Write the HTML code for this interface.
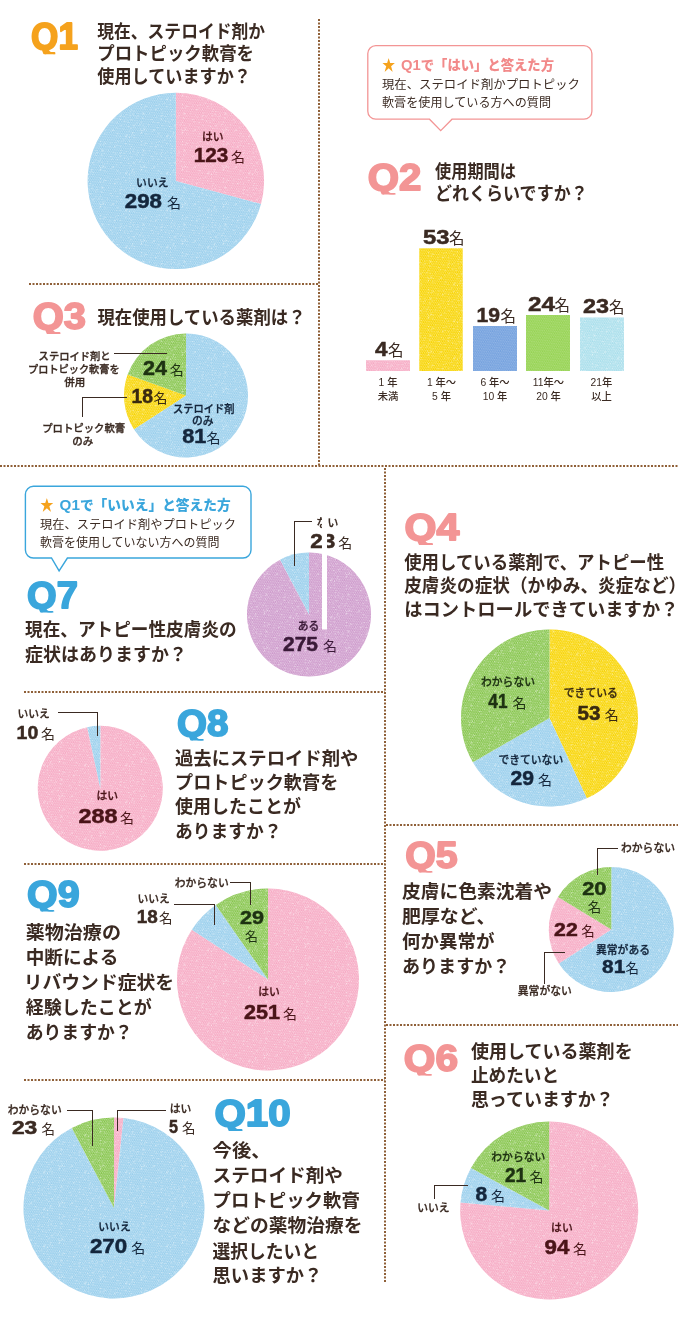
<!DOCTYPE html>
<html lang="ja"><head><meta charset="utf-8"><title>アンケート結果</title>
<style>
html,body{margin:0;padding:0;background:#fff}
svg{display:block}
.dot{stroke:#8f6038;stroke-width:2;stroke-dasharray:2 1.5}
.qn{font-family:"Liberation Sans",sans-serif;font-weight:bold;stroke-width:1.8;stroke-linejoin:round}
.qt{font-family:"Liberation Sans","Noto Sans CJK JP",sans-serif;font-weight:700;fill:#3a2a22}
.lb{font-family:"Liberation Sans","Noto Sans CJK JP",sans-serif;font-weight:500;stroke-width:0.3}
.lb2{font-family:"Liberation Sans","Noto Sans CJK JP",sans-serif;font-weight:500}
.nm{font-family:"Liberation Sans",sans-serif;font-weight:bold;stroke-width:0.5}
.mei{font-family:"Liberation Sans","Noto Sans CJK JP",sans-serif;font-weight:400}
.cth{font-family:"Liberation Sans","Noto Sans CJK JP",sans-serif;font-weight:900}
.ctb{font-family:"Liberation Sans","Noto Sans CJK JP",sans-serif;font-weight:400;fill:#3a2a22}
</style></head><body>
<svg width="678" height="1339" viewBox="0 0 678 1339">
<defs>
<pattern id="tex" width="2.2" height="3.4" patternUnits="userSpaceOnUse" patternTransform="rotate(-4)"><rect x="0.1" y="0.2" width="1.3" height="1" fill="#fff" fill-opacity="0.5"/><rect x="1.2" y="1.9" width="1.3" height="1" fill="#fff" fill-opacity="0.5"/><rect x="-1.0" y="1.9" width="1.3" height="1" fill="#fff" fill-opacity="0.5"/></pattern><pattern id="spk" width="41" height="37" patternUnits="userSpaceOnUse"><rect x="12.8" y="5.4" width="0.8" height="0.9" fill="#fff" fill-opacity="0.40"/><rect x="14.4" y="2.1" width="0.8" height="0.9" fill="#fff" fill-opacity="0.35"/><rect x="2.8" y="3.2" width="1.3" height="0.7" fill="#fff" fill-opacity="0.33"/><rect x="8.8" y="22.5" width="1.1" height="0.9" fill="#fff" fill-opacity="0.48"/><rect x="38.6" y="1.7" width="1.0" height="0.8" fill="#fff" fill-opacity="0.46"/><rect x="4.7" y="11.0" width="0.9" height="0.9" fill="#fff" fill-opacity="0.44"/><rect x="25.2" y="13.3" width="0.8" height="0.7" fill="#fff" fill-opacity="0.36"/><rect x="8.1" y="24.4" width="1.0" height="0.9" fill="#fff" fill-opacity="0.33"/><rect x="17.9" y="10.7" width="1.2" height="0.8" fill="#fff" fill-opacity="0.44"/><rect x="22.7" y="18.8" width="1.2" height="0.8" fill="#fff" fill-opacity="0.46"/><rect x="38.7" y="4.2" width="1.3" height="0.8" fill="#fff" fill-opacity="0.33"/><rect x="19.3" y="1.4" width="1.3" height="0.9" fill="#fff" fill-opacity="0.40"/><rect x="34.6" y="11.2" width="1.2" height="0.9" fill="#fff" fill-opacity="0.41"/><rect x="18.0" y="30.1" width="1.1" height="1.0" fill="#fff" fill-opacity="0.48"/><rect x="2.4" y="25.1" width="1.4" height="1.0" fill="#fff" fill-opacity="0.39"/><rect x="11.2" y="13.8" width="0.8" height="0.9" fill="#fff" fill-opacity="0.40"/><rect x="6.6" y="4.2" width="1.3" height="0.8" fill="#fff" fill-opacity="0.22"/><rect x="9.8" y="14.0" width="0.8" height="0.9" fill="#fff" fill-opacity="0.46"/><rect x="21.7" y="31.6" width="1.3" height="0.8" fill="#fff" fill-opacity="0.45"/><rect x="16.4" y="12.8" width="1.4" height="0.8" fill="#fff" fill-opacity="0.47"/><rect x="7.0" y="8.3" width="1.1" height="0.9" fill="#fff" fill-opacity="0.27"/><rect x="10.4" y="0.1" width="1.0" height="0.9" fill="#fff" fill-opacity="0.33"/><rect x="37.6" y="24.7" width="1.2" height="1.0" fill="#fff" fill-opacity="0.35"/><rect x="2.1" y="32.2" width="1.3" height="1.0" fill="#fff" fill-opacity="0.43"/><rect x="15.5" y="14.3" width="1.2" height="0.7" fill="#fff" fill-opacity="0.23"/><rect x="2.7" y="7.5" width="1.0" height="0.7" fill="#fff" fill-opacity="0.25"/><rect x="0.0" y="5.4" width="1.0" height="0.7" fill="#fff" fill-opacity="0.23"/><rect x="34.5" y="22.0" width="1.0" height="0.8" fill="#fff" fill-opacity="0.24"/><rect x="14.4" y="4.4" width="1.4" height="0.9" fill="#fff" fill-opacity="0.45"/><rect x="19.1" y="3.1" width="1.0" height="0.8" fill="#fff" fill-opacity="0.23"/><rect x="32.7" y="5.8" width="1.4" height="0.9" fill="#fff" fill-opacity="0.21"/><rect x="5.8" y="19.4" width="1.1" height="1.1" fill="#fff" fill-opacity="0.21"/><rect x="34.1" y="24.9" width="1.0" height="0.8" fill="#fff" fill-opacity="0.28"/><rect x="30.5" y="19.1" width="1.0" height="0.8" fill="#fff" fill-opacity="0.43"/><rect x="32.1" y="35.3" width="1.3" height="1.0" fill="#fff" fill-opacity="0.46"/><rect x="29.2" y="8.1" width="1.0" height="0.7" fill="#fff" fill-opacity="0.36"/><rect x="1.1" y="10.0" width="1.2" height="1.1" fill="#fff" fill-opacity="0.28"/><rect x="17.7" y="33.5" width="1.4" height="0.8" fill="#fff" fill-opacity="0.50"/><rect x="8.7" y="8.1" width="0.9" height="0.9" fill="#fff" fill-opacity="0.26"/><rect x="35.6" y="30.1" width="1.2" height="1.0" fill="#fff" fill-opacity="0.34"/><rect x="3.3" y="23.6" width="1.3" height="1.0" fill="#fff" fill-opacity="0.47"/><rect x="18.9" y="6.4" width="1.0" height="1.0" fill="#fff" fill-opacity="0.44"/><rect x="38.4" y="14.2" width="1.4" height="1.0" fill="#fff" fill-opacity="0.32"/><rect x="6.7" y="4.5" width="1.3" height="1.0" fill="#fff" fill-opacity="0.25"/><rect x="5.8" y="29.6" width="1.2" height="0.8" fill="#fff" fill-opacity="0.49"/><rect x="21.7" y="4.7" width="1.4" height="1.0" fill="#fff" fill-opacity="0.20"/><rect x="20.8" y="33.4" width="1.3" height="1.0" fill="#fff" fill-opacity="0.33"/><rect x="8.3" y="9.0" width="0.9" height="0.9" fill="#fff" fill-opacity="0.29"/><rect x="10.2" y="15.0" width="1.3" height="0.8" fill="#fff" fill-opacity="0.24"/><rect x="18.1" y="20.9" width="1.1" height="1.1" fill="#fff" fill-opacity="0.47"/><rect x="19.8" y="19.0" width="0.8" height="0.9" fill="#fff" fill-opacity="0.36"/><rect x="7.2" y="0.1" width="0.9" height="0.9" fill="#fff" fill-opacity="0.44"/><rect x="28.6" y="19.9" width="1.1" height="0.9" fill="#fff" fill-opacity="0.30"/><rect x="31.0" y="3.8" width="0.9" height="0.8" fill="#fff" fill-opacity="0.37"/><rect x="30.5" y="18.2" width="1.3" height="1.1" fill="#fff" fill-opacity="0.37"/><rect x="17.5" y="21.9" width="1.1" height="1.0" fill="#fff" fill-opacity="0.35"/><rect x="17.9" y="19.1" width="1.4" height="1.0" fill="#fff" fill-opacity="0.34"/><rect x="34.6" y="33.7" width="1.1" height="1.1" fill="#fff" fill-opacity="0.28"/><rect x="33.2" y="4.9" width="1.1" height="0.7" fill="#fff" fill-opacity="0.24"/><rect x="9.5" y="2.6" width="1.3" height="1.1" fill="#fff" fill-opacity="0.40"/><rect x="6.1" y="25.6" width="0.9" height="1.1" fill="#fff" fill-opacity="0.40"/><rect x="38.2" y="7.9" width="1.0" height="0.9" fill="#fff" fill-opacity="0.49"/><rect x="39.1" y="29.8" width="1.1" height="0.9" fill="#fff" fill-opacity="0.25"/><rect x="13.4" y="7.0" width="1.2" height="0.7" fill="#fff" fill-opacity="0.30"/><rect x="21.9" y="15.8" width="1.0" height="0.9" fill="#fff" fill-opacity="0.21"/><rect x="20.2" y="2.3" width="1.3" height="1.1" fill="#fff" fill-opacity="0.50"/><rect x="4.1" y="9.5" width="1.3" height="0.8" fill="#fff" fill-opacity="0.21"/><rect x="5.1" y="15.1" width="1.3" height="0.8" fill="#fff" fill-opacity="0.47"/><rect x="5.9" y="32.9" width="1.2" height="0.7" fill="#fff" fill-opacity="0.37"/><rect x="2.3" y="24.6" width="0.8" height="1.1" fill="#fff" fill-opacity="0.33"/><rect x="25.1" y="28.7" width="1.3" height="0.7" fill="#fff" fill-opacity="0.23"/><rect x="34.1" y="16.2" width="1.1" height="1.1" fill="#fff" fill-opacity="0.30"/><rect x="10.6" y="4.6" width="0.9" height="0.7" fill="#fff" fill-opacity="0.36"/><rect x="6.4" y="1.8" width="1.0" height="0.8" fill="#fff" fill-opacity="0.26"/><rect x="30.0" y="10.4" width="0.9" height="0.8" fill="#fff" fill-opacity="0.35"/><rect x="0.7" y="9.0" width="1.2" height="0.9" fill="#fff" fill-opacity="0.20"/><rect x="7.5" y="17.0" width="0.9" height="1.0" fill="#fff" fill-opacity="0.48"/><rect x="17.1" y="17.7" width="1.0" height="0.9" fill="#fff" fill-opacity="0.45"/><rect x="27.2" y="35.2" width="1.3" height="1.0" fill="#fff" fill-opacity="0.30"/><rect x="25.1" y="14.5" width="0.8" height="0.8" fill="#fff" fill-opacity="0.30"/><rect x="2.8" y="26.5" width="0.9" height="0.7" fill="#fff" fill-opacity="0.28"/><rect x="33.2" y="31.2" width="1.0" height="0.8" fill="#fff" fill-opacity="0.40"/><rect x="11.6" y="16.4" width="1.1" height="0.8" fill="#fff" fill-opacity="0.25"/><rect x="38.0" y="34.8" width="0.9" height="1.1" fill="#fff" fill-opacity="0.36"/><rect x="12.2" y="12.8" width="1.0" height="0.9" fill="#fff" fill-opacity="0.20"/><rect x="19.9" y="7.2" width="0.8" height="0.8" fill="#fff" fill-opacity="0.35"/><rect x="3.5" y="14.3" width="0.8" height="0.8" fill="#fff" fill-opacity="0.21"/><rect x="9.2" y="21.0" width="1.3" height="1.0" fill="#fff" fill-opacity="0.36"/><rect x="28.3" y="31.5" width="1.0" height="1.1" fill="#fff" fill-opacity="0.32"/><rect x="5.9" y="25.9" width="0.8" height="1.0" fill="#fff" fill-opacity="0.39"/><rect x="35.2" y="22.5" width="1.3" height="0.8" fill="#fff" fill-opacity="0.42"/><rect x="20.7" y="18.1" width="1.3" height="1.0" fill="#fff" fill-opacity="0.45"/><rect x="23.1" y="32.0" width="1.2" height="0.8" fill="#fff" fill-opacity="0.40"/><rect x="1.2" y="4.8" width="0.9" height="1.0" fill="#fff" fill-opacity="0.31"/><rect x="22.1" y="22.5" width="1.2" height="0.9" fill="#fff" fill-opacity="0.39"/><rect x="0.1" y="28.6" width="1.1" height="0.9" fill="#fff" fill-opacity="0.42"/><rect x="26.0" y="2.4" width="1.0" height="0.7" fill="#fff" fill-opacity="0.42"/><rect x="10.5" y="26.1" width="1.2" height="1.1" fill="#fff" fill-opacity="0.26"/><rect x="19.5" y="13.7" width="1.2" height="1.0" fill="#fff" fill-opacity="0.34"/><rect x="24.4" y="23.0" width="0.9" height="0.8" fill="#fff" fill-opacity="0.22"/><rect x="29.4" y="10.9" width="0.8" height="0.7" fill="#fff" fill-opacity="0.37"/><rect x="10.6" y="24.1" width="1.2" height="0.8" fill="#fff" fill-opacity="0.41"/><rect x="20.4" y="16.6" width="0.9" height="1.1" fill="#fff" fill-opacity="0.34"/><rect x="7.9" y="35.0" width="0.8" height="0.9" fill="#fff" fill-opacity="0.48"/><rect x="32.4" y="34.7" width="1.0" height="0.8" fill="#fff" fill-opacity="0.33"/><rect x="37.4" y="7.5" width="0.9" height="0.9" fill="#fff" fill-opacity="0.37"/><rect x="37.6" y="4.7" width="1.1" height="1.1" fill="#fff" fill-opacity="0.45"/><rect x="27.8" y="8.3" width="1.1" height="0.7" fill="#fff" fill-opacity="0.47"/><rect x="0.1" y="17.6" width="1.0" height="0.8" fill="#fff" fill-opacity="0.34"/><rect x="13.6" y="11.3" width="0.8" height="1.0" fill="#fff" fill-opacity="0.45"/></pattern>
<pattern id="tex2" width="2.2" height="3.4" patternUnits="userSpaceOnUse" patternTransform="rotate(-4)"><rect x="0.1" y="0.2" width="1.3" height="1" fill="#fff" fill-opacity="0.28"/><rect x="1.2" y="1.9" width="1.3" height="1" fill="#fff" fill-opacity="0.28"/><rect x="-1.0" y="1.9" width="1.3" height="1" fill="#fff" fill-opacity="0.28"/></pattern>
</defs>
<rect width="678" height="1339" fill="#fff"/>
<line x1="319" y1="19" x2="319" y2="466" class="dot"/>
<line x1="29" y1="284" x2="319" y2="284" class="dot"/>
<line x1="0" y1="466" x2="678" y2="466" class="dot"/>
<line x1="385" y1="468" x2="385" y2="1282" class="dot"/>
<line x1="24" y1="692" x2="385" y2="692" class="dot"/>
<line x1="24" y1="864" x2="385" y2="864" class="dot"/>
<line x1="24" y1="1080" x2="385" y2="1080" class="dot"/>
<line x1="386" y1="825" x2="678" y2="825" class="dot"/>
<line x1="386" y1="1025" x2="678" y2="1025" class="dot"/>
<clipPath id="qc1"><rect x="26.7" y="10.299999999999997" width="57.6" height="44"/></clipPath>
<text x="31.099999999999998" y="49.4" class="qn" fill="#f5a21d" stroke="#f5a21d" font-size="37" textLength="46.800000000000004" lengthAdjust="spacingAndGlyphs" clip-path="url(#qc1)">Q1</text>
<text x="97.3" y="37.5" class="qt" font-size="18.5" textLength="167.7" lengthAdjust="spacingAndGlyphs">現在、ステロイド剤か</text>
<text x="97.3" y="60.2" class="qt" font-size="18.5" textLength="156.7" lengthAdjust="spacingAndGlyphs">プロトピック軟膏を</text>
<text x="97.3" y="83" class="qt" font-size="18.5" textLength="153.7" lengthAdjust="spacingAndGlyphs">使用していますか？</text>
<path d="M175.85 180.90L175.85 92.70A88.2 88.2 0 0 1 260.97 203.99Z" fill="#f6a9c3"/>
<path d="M175.85 180.90L260.97 203.99A88.2 88.2 0 1 1 175.85 92.70Z" fill="#98ceec"/>
<circle cx="175.85" cy="180.9" r="88.2" fill="url(#tex)"/>
<circle cx="175.85" cy="180.9" r="88.2" fill="url(#spk)"/>
<text x="212.7" y="140.5" class="lb" font-size="10.8" text-anchor="middle" fill="#4a1418" stroke="#4a1418">はい</text>
<text x="193.8" y="162.2" class="nm" font-size="20" fill="#4a1418" stroke="#4a1418" textLength="34.5" lengthAdjust="spacingAndGlyphs">123</text>
<text x="231.0" y="162.2" class="mei" font-size="14" fill="#4a1418">名</text>
<text x="152.3" y="187" class="lb" font-size="10.8" text-anchor="middle" fill="#14263c" stroke="#14263c">いいえ</text>
<text x="124.8" y="208.3" class="nm" font-size="20" fill="#14263c" stroke="#14263c" textLength="37.2" lengthAdjust="spacingAndGlyphs">298</text>
<text x="167.0" y="208.3" class="mei" font-size="14" fill="#14263c">名</text>
<path d="M375.8 45.6H583.9a8 8 0 0 1 8 8V111.2a8 8 0 0 1 -8 8H452L440.7 130.6L429.5 119.2H375.8a8 8 0 0 1 -8 -8V53.6a8 8 0 0 1 8 -8Z" fill="#fff" stroke="#f39595" stroke-width="1.3"/>
<text x="382" y="70" class="cth" font-size="13.5" textLength="172" lengthAdjust="spacingAndGlyphs"><tspan fill="#f5a21d">★</tspan><tspan fill="#f28a8a" dx="2"> <tspan font-size="15">Q1</tspan>で「はい」と答えた方</tspan></text>
<text x="382" y="89" class="ctb" font-size="12" textLength="198" lengthAdjust="spacingAndGlyphs">現在、ステロイド剤かプロトピック</text>
<text x="382" y="107" class="ctb" font-size="12" textLength="169" lengthAdjust="spacingAndGlyphs">軟膏を使用している方への質問</text>
<clipPath id="qc2"><rect x="363.3" y="150.5" width="64.4" height="44"/></clipPath>
<text x="367.7" y="189.6" class="qn" fill="#f39595" stroke="#f39595" font-size="37" textLength="53.6" lengthAdjust="spacingAndGlyphs" clip-path="url(#qc2)">Q2</text>
<text x="435" y="177.5" class="qt" font-size="18.5" textLength="81" lengthAdjust="spacingAndGlyphs">使用期間は</text>
<text x="435" y="199.5" class="qt" font-size="18.5" textLength="152.7" lengthAdjust="spacingAndGlyphs">どれくらいですか？</text>
<rect x="366" y="360.3" width="44.0" height="10.7" fill="#f6a9c3"/>
<rect x="366" y="360.3" width="44.0" height="10.7" fill="url(#tex)"/>
<rect x="366" y="360.3" width="44.0" height="10.7" fill="url(#spk)"/>
<text x="388" y="385.5" class="lb2" font-size="10.3" text-anchor="middle" fill="#3a2a22">1 年</text>
<text x="388" y="399.5" class="lb2" font-size="10.3" text-anchor="middle" fill="#3a2a22">未満</text>
<rect x="419.3" y="248.3" width="43.4" height="122.7" fill="#f8d400"/>
<rect x="419.3" y="248.3" width="43.4" height="122.7" fill="url(#tex)"/>
<rect x="419.3" y="248.3" width="43.4" height="122.7" fill="url(#spk)"/>
<text x="441.5" y="385.5" class="lb2" font-size="10.3" text-anchor="middle" fill="#3a2a22">1 年〜</text>
<text x="441.5" y="399.5" class="lb2" font-size="10.3" text-anchor="middle" fill="#3a2a22">5 年</text>
<rect x="473" y="326" width="44.0" height="45.0" fill="#74a1de"/>
<rect x="473" y="326" width="44.0" height="45.0" fill="url(#tex2)"/>
<text x="495" y="385.5" class="lb2" font-size="10.3" text-anchor="middle" fill="#3a2a22">6 年〜</text>
<text x="495" y="399.5" class="lb2" font-size="10.3" text-anchor="middle" fill="#3a2a22">10 年</text>
<rect x="526" y="315" width="44.0" height="56.0" fill="#96d353"/>
<rect x="526" y="315" width="44.0" height="56.0" fill="url(#tex2)"/>
<text x="548.5" y="385.5" class="lb2" font-size="10.3" text-anchor="middle" fill="#3a2a22">11年〜</text>
<text x="548.5" y="399.5" class="lb2" font-size="10.3" text-anchor="middle" fill="#3a2a22">20 年</text>
<rect x="580" y="317.5" width="44.0" height="53.5" fill="#a8deeb"/>
<rect x="580" y="317.5" width="44.0" height="53.5" fill="url(#tex)"/>
<rect x="580" y="317.5" width="44.0" height="53.5" fill="url(#spk)"/>
<text x="601.5" y="385.5" class="lb2" font-size="10.3" text-anchor="middle" fill="#3a2a22">21年</text>
<text x="601.5" y="399.5" class="lb2" font-size="10.3" text-anchor="middle" fill="#3a2a22">以上</text>
<text x="375" y="356" class="nm" font-size="21" fill="#3a2a22" stroke="#3a2a22" textLength="12.5" lengthAdjust="spacingAndGlyphs">4</text>
<text x="388.0" y="356" class="mei" font-size="15.5" fill="#3a2a22">名</text>
<text x="423" y="243.5" class="nm" font-size="21" fill="#3a2a22" stroke="#3a2a22" textLength="26.5" lengthAdjust="spacingAndGlyphs">53</text>
<text x="449.0" y="243.5" class="mei" font-size="15.5" fill="#3a2a22">名</text>
<text x="476.5" y="321.5" class="nm" font-size="21" fill="#3a2a22" stroke="#3a2a22" textLength="23.5" lengthAdjust="spacingAndGlyphs">19</text>
<text x="500.5" y="321.5" class="mei" font-size="15.5" fill="#3a2a22">名</text>
<text x="528" y="311" class="nm" font-size="21" fill="#3a2a22" stroke="#3a2a22" textLength="27.0" lengthAdjust="spacingAndGlyphs">24</text>
<text x="554.5" y="311" class="mei" font-size="15.5" fill="#3a2a22">名</text>
<text x="583" y="313" class="nm" font-size="21" fill="#3a2a22" stroke="#3a2a22" textLength="26.0" lengthAdjust="spacingAndGlyphs">23</text>
<text x="609.0" y="313" class="mei" font-size="15.5" fill="#3a2a22">名</text>
<clipPath id="qc3"><rect x="28.4" y="290" width="64" height="44"/></clipPath>
<text x="32.8" y="329.1" class="qn" fill="#f39595" stroke="#f39595" font-size="37" textLength="53.2" lengthAdjust="spacingAndGlyphs" clip-path="url(#qc3)">Q3</text>
<text x="97.4" y="323.5" class="qt" font-size="18.5" textLength="208.2" lengthAdjust="spacingAndGlyphs">現在使用している薬剤は？</text>
<path d="M186.00 395.50L186.00 333.50A62 62 0 1 1 133.96 429.20Z" fill="#98ceec"/>
<path d="M186.00 395.50L133.96 429.20A62 62 0 0 1 127.65 374.54Z" fill="#f8d400"/>
<path d="M186.00 395.50L127.65 374.54A62 62 0 0 1 186.00 333.50Z" fill="#86c54c"/>
<circle cx="186" cy="395.5" r="62" fill="url(#tex)"/>
<circle cx="186" cy="395.5" r="62" fill="url(#spk)"/>
<text x="74.6" y="359.5" class="lb" font-size="10.5" text-anchor="middle" fill="#3a2a22" stroke="#3a2a22" textLength="72" lengthAdjust="spacingAndGlyphs">ステロイド剤と</text>
<text x="73.8" y="373" class="lb" font-size="10.5" text-anchor="middle" fill="#3a2a22" stroke="#3a2a22" textLength="91.5" lengthAdjust="spacingAndGlyphs">プロトピック軟膏を</text>
<text x="74.8" y="386.3" class="lb" font-size="10.5" text-anchor="middle" fill="#3a2a22" stroke="#3a2a22">併用</text>
<text x="83.7" y="432.2" class="lb" font-size="10.5" text-anchor="middle" fill="#3a2a22" stroke="#3a2a22" textLength="83" lengthAdjust="spacingAndGlyphs">プロトピック軟膏</text>
<text x="82.8" y="444.8" class="lb" font-size="10.5" text-anchor="middle" fill="#3a2a22" stroke="#3a2a22">のみ</text>
<polyline points="113.8,353.5 167.1,353.5" fill="none" stroke="#3a2a22" stroke-width="1" shape-rendering="crispEdges"/>
<polyline points="127,397.2 82,397.2 82,417.4" fill="none" stroke="#3a2a22" stroke-width="1" shape-rendering="crispEdges"/>
<text x="143.1" y="374.5" class="nm" font-size="19.5" fill="#1e3212" stroke="#1e3212" textLength="24.0" lengthAdjust="spacingAndGlyphs">24</text>
<text x="169.7" y="374.5" class="mei" font-size="14" fill="#1e3212">名</text>
<text x="131.6" y="403.2" class="nm" font-size="19.5" fill="#3a2a10" stroke="#3a2a10" textLength="21.5" lengthAdjust="spacingAndGlyphs">18</text>
<text x="153.6" y="403.2" class="mei" font-size="14" fill="#3a2a10">名</text>
<text x="203.8" y="413.4" class="lb" font-size="10.8" text-anchor="middle" fill="#14263c" stroke="#14263c" textLength="61.5" lengthAdjust="spacingAndGlyphs">ステロイド剤</text>
<text x="202.8" y="425.3" class="lb" font-size="10.8" text-anchor="middle" fill="#14263c" stroke="#14263c">のみ</text>
<text x="182.2" y="443.3" class="nm" font-size="19.5" fill="#14263c" stroke="#14263c" textLength="24.1" lengthAdjust="spacingAndGlyphs">81</text>
<text x="206.5" y="443.3" class="mei" font-size="14" fill="#14263c">名</text>
<path d="M33.4 486.3H243a8 8 0 0 1 8 8V550a8 8 0 0 1 -8 8H67.4L59.1 570.8L51.5 558H33.4a8 8 0 0 1 -8 -8V494.3a8 8 0 0 1 8 -8Z" fill="#fff" stroke="#3aa6dc" stroke-width="1.4"/>
<text x="40" y="510" class="cth" font-size="13.5" textLength="190.7" lengthAdjust="spacingAndGlyphs"><tspan fill="#f5a21d">★</tspan><tspan fill="#3aa6dc" dx="2"> <tspan font-size="15">Q1</tspan>で「いいえ」と答えた方</tspan></text>
<text x="40" y="529" class="ctb" font-size="12" textLength="196" lengthAdjust="spacingAndGlyphs">現在、ステロイド剤やプロトピック</text>
<text x="40" y="547" class="ctb" font-size="12" textLength="179.6" lengthAdjust="spacingAndGlyphs">軟膏を使用していない方への質問</text>
<clipPath id="qc4"><rect x="22.7" y="568.5" width="61.6" height="44"/></clipPath>
<text x="27.099999999999998" y="607.6" class="qn" fill="#3aa6dc" stroke="#3aa6dc" font-size="37" textLength="50.800000000000004" lengthAdjust="spacingAndGlyphs" clip-path="url(#qc4)">Q7</text>
<text x="25" y="636.2" class="qt" font-size="18.5" textLength="211.7" lengthAdjust="spacingAndGlyphs">現在、アトピー性皮膚炎の</text>
<text x="25" y="661.2" class="qt" font-size="18.5" textLength="162.0" lengthAdjust="spacingAndGlyphs">症状はありますか？</text>
<path d="M309.00 614.50L309.00 552.50A62 62 0 1 1 280.10 559.65Z" fill="#cd99cb"/>
<path d="M309.00 614.50L280.10 559.65A62 62 0 0 1 309.00 552.50Z" fill="#98ceec"/>
<circle cx="309" cy="614.5" r="62" fill="url(#tex)"/>
<circle cx="309" cy="614.5" r="62" fill="url(#spk)"/>
<polyline points="311.5,521.3 294.7,521.3 294.7,565.5" fill="none" stroke="#3a2a22" stroke-width="1" shape-rendering="crispEdges"/>
<text x="327.4" y="527" class="lb" font-size="10.8" text-anchor="middle" fill="#3a2a22" stroke="#3a2a22">ない</text>
<text x="310.2" y="548" class="nm" font-size="20" fill="#3a2a22" stroke="#3a2a22" textLength="25.1" lengthAdjust="spacingAndGlyphs">23</text>
<text x="338.3" y="548" class="mei" font-size="14" fill="#3a2a22">名</text>
<text x="308.6" y="629.6" class="lb" font-size="10.8" text-anchor="middle" fill="#3a1a38" stroke="#3a1a38">ある</text>
<text x="283" y="650.8" class="nm" font-size="19.5" fill="#3a1a38" stroke="#3a1a38" textLength="35.0" lengthAdjust="spacingAndGlyphs">275</text>
<text x="323.0" y="650.8" class="mei" font-size="14" fill="#3a1a38">名</text>
<rect x="322" y="512" width="5" height="117.5" fill="#fff"/>
<path d="M100.30 788.30L100.30 725.80A62.5 62.5 0 1 1 87.22 727.18Z" fill="#f6a9c3"/>
<path d="M100.30 788.30L87.22 727.18A62.5 62.5 0 0 1 100.30 725.80Z" fill="#98ceec"/>
<circle cx="100.3" cy="788.3" r="62.5" fill="url(#tex)"/>
<circle cx="100.3" cy="788.3" r="62.5" fill="url(#spk)"/>
<text x="33.6" y="717.5" class="lb" font-size="10.8" text-anchor="middle" fill="#3a2a22" stroke="#3a2a22">いいえ</text>
<text x="16.6" y="738.9" class="nm" font-size="19" fill="#3a2a22" stroke="#3a2a22" textLength="21.7" lengthAdjust="spacingAndGlyphs">10</text>
<text x="40.9" y="738.9" class="mei" font-size="14" fill="#3a2a22">名</text>
<polyline points="58.4,712.3 97.8,712.3 97.8,735.5" fill="none" stroke="#3a2a22" stroke-width="1" shape-rendering="crispEdges"/>
<text x="107.3" y="800" class="lb" font-size="10.8" text-anchor="middle" fill="#4a1418" stroke="#4a1418">はい</text>
<text x="78.4" y="822.7" class="nm" font-size="19.5" fill="#4a1418" stroke="#4a1418" textLength="39.0" lengthAdjust="spacingAndGlyphs">288</text>
<text x="119.9" y="822.7" class="mei" font-size="14" fill="#4a1418">名</text>
<clipPath id="qc5"><rect x="172.7" y="696.5" width="62.3" height="44"/></clipPath>
<text x="177.1" y="735.6" class="qn" fill="#3aa6dc" stroke="#3aa6dc" font-size="37" textLength="51.5" lengthAdjust="spacingAndGlyphs" clip-path="url(#qc5)">Q8</text>
<text x="175" y="764.5" class="qt" font-size="18.5" textLength="183.3" lengthAdjust="spacingAndGlyphs">過去にステロイド剤や</text>
<text x="175" y="788.8" class="qt" font-size="18.5" textLength="163.3" lengthAdjust="spacingAndGlyphs">プロトピック軟膏を</text>
<text x="175" y="813.2" class="qt" font-size="18.5" textLength="126" lengthAdjust="spacingAndGlyphs">使用したことが</text>
<text x="175" y="837.5" class="qt" font-size="18.5" textLength="106.7" lengthAdjust="spacingAndGlyphs">ありますか？</text>
<clipPath id="qc6"><rect x="22.7" y="867.5" width="63.3" height="44"/></clipPath>
<text x="27.099999999999998" y="906.6" class="qn" fill="#3aa6dc" stroke="#3aa6dc" font-size="37" textLength="52.5" lengthAdjust="spacingAndGlyphs" clip-path="url(#qc6)">Q9</text>
<text x="25.7" y="938.7" class="qt" font-size="18.5" textLength="95.3" lengthAdjust="spacingAndGlyphs">薬物治療の</text>
<text x="25.7" y="963.8" class="qt" font-size="18.5" textLength="92.6" lengthAdjust="spacingAndGlyphs">中断による</text>
<text x="23.7" y="988.9" class="qt" font-size="18.5" textLength="150.5" lengthAdjust="spacingAndGlyphs">リバウンド症状を</text>
<text x="25.7" y="1014" class="qt" font-size="18.5" textLength="126" lengthAdjust="spacingAndGlyphs">経験したことが</text>
<text x="25.7" y="1039.1" class="qt" font-size="18.5" textLength="107.0" lengthAdjust="spacingAndGlyphs">ありますか？</text>
<path d="M268.00 979.50L268.00 888.50A91 91 0 1 1 191.87 929.64Z" fill="#f6a9c3"/>
<path d="M268.00 979.50L191.87 929.64A91 91 0 0 1 215.76 904.99Z" fill="#98ceec"/>
<path d="M268.00 979.50L215.76 904.99A91 91 0 0 1 268.00 888.50Z" fill="#86c54c"/>
<circle cx="268" cy="979.5" r="91" fill="url(#tex)"/>
<circle cx="268" cy="979.5" r="91" fill="url(#spk)"/>
<text x="201.7" y="886.5" class="lb" font-size="10.8" text-anchor="middle" fill="#3a2a22" stroke="#3a2a22">わからない</text>
<polyline points="230,882.7 250,882.7 250,905" fill="none" stroke="#3a2a22" stroke-width="1" shape-rendering="crispEdges"/>
<text x="153.7" y="903.3" class="lb" font-size="10.8" text-anchor="middle" fill="#3a2a22" stroke="#3a2a22">いいえ</text>
<text x="136.7" y="922.7" class="nm" font-size="18.5" fill="#3a2a22" stroke="#3a2a22" textLength="21.0" lengthAdjust="spacingAndGlyphs">18</text>
<text x="159.0" y="922.7" class="mei" font-size="13.5" fill="#3a2a22">名</text>
<polyline points="174.3,904.3 214.3,904.3 214.3,925" fill="none" stroke="#3a2a22" stroke-width="1" shape-rendering="crispEdges"/>
<text x="240" y="924" class="nm" font-size="19" fill="#1e3212" stroke="#1e3212" textLength="24.0" lengthAdjust="spacingAndGlyphs">29</text>
<text x="245.0" y="941" class="mei" font-size="13" fill="#1e3212">名</text>
<text x="269" y="996" class="lb" font-size="10.8" text-anchor="middle" fill="#4a1418" stroke="#4a1418">はい</text>
<text x="244" y="1019" class="nm" font-size="19.5" fill="#4a1418" stroke="#4a1418" textLength="36.0" lengthAdjust="spacingAndGlyphs">251</text>
<text x="283.0" y="1019" class="mei" font-size="14" fill="#4a1418">名</text>
<path d="M114.00 1208.00L114.00 1117.50A90.5 90.5 0 0 1 123.52 1118.00Z" fill="#f6a9c3"/>
<path d="M114.00 1208.00L123.52 1118.00A90.5 90.5 0 1 1 71.81 1127.93Z" fill="#98ceec"/>
<path d="M114.00 1208.00L71.81 1127.93A90.5 90.5 0 0 1 114.00 1117.50Z" fill="#86c54c"/>
<circle cx="114" cy="1208" r="90.5" fill="url(#tex)"/>
<circle cx="114" cy="1208" r="90.5" fill="url(#spk)"/>
<text x="34.7" y="1113.5" class="lb" font-size="10.8" text-anchor="middle" fill="#3a2a22" stroke="#3a2a22">わからない</text>
<text x="11.9" y="1134" class="nm" font-size="18.5" fill="#3a2a22" stroke="#3a2a22" textLength="25.4" lengthAdjust="spacingAndGlyphs">23</text>
<text x="41.4" y="1134" class="mei" font-size="13.5" fill="#3a2a22">名</text>
<polyline points="66.8,1110.3 92.3,1110.3 92.3,1146" fill="none" stroke="#3a2a22" stroke-width="1" shape-rendering="crispEdges"/>
<text x="180.6" y="1112.5" class="lb" font-size="10.8" text-anchor="middle" fill="#3a2a22" stroke="#3a2a22">はい</text>
<text x="169" y="1133" class="nm" font-size="18.5" fill="#3a2a22" stroke="#3a2a22" textLength="9.0" lengthAdjust="spacingAndGlyphs">5</text>
<text x="182.0" y="1133" class="mei" font-size="13.5" fill="#3a2a22">名</text>
<polyline points="166.2,1110.3 117,1110.3 117,1130.6" fill="none" stroke="#3a2a22" stroke-width="1" shape-rendering="crispEdges"/>
<text x="114.5" y="1230.7" class="lb" font-size="10.8" text-anchor="middle" fill="#14263c" stroke="#14263c">いいえ</text>
<text x="89.9" y="1252.7" class="nm" font-size="19.5" fill="#14263c" stroke="#14263c" textLength="37.3" lengthAdjust="spacingAndGlyphs">270</text>
<text x="131.3" y="1252.7" class="mei" font-size="14" fill="#14263c">名</text>
<clipPath id="qc7"><rect x="210" y="1087" width="87" height="44"/></clipPath>
<text x="214.4" y="1126.1" class="qn" fill="#3aa6dc" stroke="#3aa6dc" font-size="37" textLength="76.2" lengthAdjust="spacingAndGlyphs" clip-path="url(#qc7)">Q10</text>
<text x="212.6" y="1156.5" class="qt" font-size="18.5" textLength="58" lengthAdjust="spacingAndGlyphs">今後、</text>
<text x="212.6" y="1182" class="qt" font-size="18.5" textLength="130.4" lengthAdjust="spacingAndGlyphs">ステロイド剤や</text>
<text x="212.6" y="1207" class="qt" font-size="18.5" textLength="147.2" lengthAdjust="spacingAndGlyphs">プロトピック軟膏</text>
<text x="212.6" y="1232" class="qt" font-size="18.5" textLength="150" lengthAdjust="spacingAndGlyphs">などの薬物治療を</text>
<text x="212.6" y="1257.5" class="qt" font-size="18.5" textLength="106.5" lengthAdjust="spacingAndGlyphs">選択したいと</text>
<text x="212.6" y="1282" class="qt" font-size="18.5" textLength="109.7" lengthAdjust="spacingAndGlyphs">思いますか？</text>
<clipPath id="qc8"><rect x="400.2" y="501" width="65.5" height="44"/></clipPath>
<text x="404.59999999999997" y="540.1" class="qn" fill="#f39595" stroke="#f39595" font-size="37" textLength="54.7" lengthAdjust="spacingAndGlyphs" clip-path="url(#qc8)">Q4</text>
<text x="404.2" y="568.6" class="qt" font-size="18.5" textLength="260" lengthAdjust="spacingAndGlyphs">使用している薬剤で、アトピー性</text>
<text x="404.2" y="592.1" class="qt" font-size="18.5" textLength="282" lengthAdjust="spacingAndGlyphs">皮膚炎の症状（かゆみ、炎症など）</text>
<text x="404.2" y="616.1" class="qt" font-size="18.5" textLength="274.3" lengthAdjust="spacingAndGlyphs">はコントロールできていますか？</text>
<path d="M549.50 718.00L549.50 629.50A88.5 88.5 0 0 1 586.73 798.29Z" fill="#f8d400"/>
<path d="M549.50 718.00L586.73 798.29A88.5 88.5 0 0 1 472.86 762.25Z" fill="#98ceec"/>
<path d="M549.50 718.00L472.86 762.25A88.5 88.5 0 0 1 549.50 629.50Z" fill="#86c54c"/>
<circle cx="549.5" cy="718" r="88.5" fill="url(#tex)"/>
<circle cx="549.5" cy="718" r="88.5" fill="url(#spk)"/>
<text x="508" y="686" class="lb" font-size="10.8" text-anchor="middle" fill="#1e3212" stroke="#1e3212">わからない</text>
<text x="488.3" y="708" class="nm" font-size="19.5" fill="#1e3212" stroke="#1e3212" textLength="19.2" lengthAdjust="spacingAndGlyphs">41</text>
<text x="512.4" y="708" class="mei" font-size="14" fill="#1e3212">名</text>
<text x="590.8" y="697" class="lb" font-size="10.8" text-anchor="middle" fill="#3a2a10" stroke="#3a2a10">できている</text>
<text x="577.4" y="719.7" class="nm" font-size="19.5" fill="#3a2a10" stroke="#3a2a10" textLength="23.0" lengthAdjust="spacingAndGlyphs">53</text>
<text x="604.8" y="719.7" class="mei" font-size="14" fill="#3a2a10">名</text>
<text x="530.8" y="764.2" class="lb" font-size="10.8" text-anchor="middle" fill="#14263c" stroke="#14263c">できていない</text>
<text x="510.5" y="784.6" class="nm" font-size="19.5" fill="#14263c" stroke="#14263c" textLength="23.5" lengthAdjust="spacingAndGlyphs">29</text>
<text x="538.0" y="784.6" class="mei" font-size="14" fill="#14263c">名</text>
<clipPath id="qc9"><rect x="400.8" y="828.5" width="63.2" height="44"/></clipPath>
<text x="405.2" y="867.6" class="qn" fill="#f39595" stroke="#f39595" font-size="37" textLength="52.400000000000006" lengthAdjust="spacingAndGlyphs" clip-path="url(#qc9)">Q5</text>
<text x="402" y="898" class="qt" font-size="18.5" textLength="150" lengthAdjust="spacingAndGlyphs">皮膚に色素沈着や</text>
<text x="402" y="923" class="qt" font-size="18.5" textLength="93.5" lengthAdjust="spacingAndGlyphs">肥厚など、</text>
<text x="402" y="947.7" class="qt" font-size="18.5" textLength="92.5" lengthAdjust="spacingAndGlyphs">何か異常が</text>
<text x="402" y="972.5" class="qt" font-size="18.5" textLength="108.3" lengthAdjust="spacingAndGlyphs">ありますか？</text>
<path d="M611.30 929.50L611.30 867.00A62.5 62.5 0 1 1 558.84 963.47Z" fill="#98ceec"/>
<path d="M611.30 929.50L558.84 963.47A62.5 62.5 0 0 1 557.99 896.88Z" fill="#f6a9c3"/>
<path d="M611.30 929.50L557.99 896.88A62.5 62.5 0 0 1 611.30 867.00Z" fill="#86c54c"/>
<circle cx="611.3" cy="929.5" r="62.5" fill="url(#tex)"/>
<circle cx="611.3" cy="929.5" r="62.5" fill="url(#spk)"/>
<text x="648" y="852" class="lb" font-size="10.8" text-anchor="middle" fill="#3a2a22" stroke="#3a2a22">わからない</text>
<polyline points="617.6,848.7 597.7,848.7 597.7,875" fill="none" stroke="#3a2a22" stroke-width="1" shape-rendering="crispEdges"/>
<text x="582.2" y="895.2" class="nm" font-size="18.5" fill="#1e3212" stroke="#1e3212" textLength="24.3" lengthAdjust="spacingAndGlyphs">20</text>
<text x="587.8" y="911.5" class="mei" font-size="13.5" fill="#1e3212">名</text>
<text x="554.1" y="935.7" class="nm" font-size="18.5" fill="#4a1418" stroke="#4a1418" textLength="23.7" lengthAdjust="spacingAndGlyphs">22</text>
<text x="581.2" y="935.7" class="mei" font-size="13.5" fill="#4a1418">名</text>
<text x="623" y="954.3" class="lb" font-size="10.8" text-anchor="middle" fill="#14263c" stroke="#14263c">異常がある</text>
<text x="602.1" y="972.6" class="nm" font-size="18.5" fill="#14263c" stroke="#14263c" textLength="23.2" lengthAdjust="spacingAndGlyphs">81</text>
<text x="625.5" y="972.6" class="mei" font-size="13.5" fill="#14263c">名</text>
<text x="544.8" y="994.5" class="lb" font-size="10.8" text-anchor="middle" fill="#3a2a22" stroke="#3a2a22">異常がない</text>
<polyline points="564.5,952.3 544.6,952.3 544.6,983.7" fill="none" stroke="#3a2a22" stroke-width="1" shape-rendering="crispEdges"/>
<clipPath id="qc10"><rect x="399.4" y="1031.5" width="65" height="44"/></clipPath>
<text x="403.79999999999995" y="1070.6" class="qn" fill="#f39595" stroke="#f39595" font-size="37" textLength="54.2" lengthAdjust="spacingAndGlyphs" clip-path="url(#qc10)">Q6</text>
<text x="470.9" y="1057.7" class="qt" font-size="18.5" textLength="161.8" lengthAdjust="spacingAndGlyphs">使用している薬剤を</text>
<text x="470.9" y="1081.5" class="qt" font-size="18.5" textLength="88.2" lengthAdjust="spacingAndGlyphs">止めたいと</text>
<text x="470.9" y="1105.5" class="qt" font-size="18.5" textLength="142.9" lengthAdjust="spacingAndGlyphs">思っていますか？</text>
<path d="M549.20 1210.50L549.20 1121.50A89 89 0 1 1 460.56 1202.55Z" fill="#f6a9c3"/>
<path d="M549.20 1210.50L460.56 1202.55A89 89 0 0 1 471.01 1167.98Z" fill="#98ceec"/>
<path d="M549.20 1210.50L471.01 1167.98A89 89 0 0 1 549.20 1121.50Z" fill="#86c54c"/>
<circle cx="549.2" cy="1210.5" r="89" fill="url(#tex)"/>
<circle cx="549.2" cy="1210.5" r="89" fill="url(#spk)"/>
<text x="518.3" y="1161" class="lb" font-size="10.8" text-anchor="middle" fill="#1e3212" stroke="#1e3212">わからない</text>
<text x="504.9" y="1181.5" class="nm" font-size="19.5" fill="#1e3212" stroke="#1e3212" textLength="21.2" lengthAdjust="spacingAndGlyphs">21</text>
<text x="529.4" y="1181.5" class="mei" font-size="14" fill="#1e3212">名</text>
<text x="475.5" y="1201.3" class="nm" font-size="19.5" fill="#14263c" stroke="#14263c" textLength="11.7" lengthAdjust="spacingAndGlyphs">8</text>
<text x="491.1" y="1201.3" class="mei" font-size="14" fill="#14263c">名</text>
<text x="433.4" y="1212.3" class="lb" font-size="10.8" text-anchor="middle" fill="#3a2a22" stroke="#3a2a22">いいえ</text>
<polyline points="468.4,1185.4 434.1,1185.4 434.1,1198.5" fill="none" stroke="#3a2a22" stroke-width="1" shape-rendering="crispEdges"/>
<text x="561.9" y="1232" class="lb" font-size="10.8" text-anchor="middle" fill="#4a1418" stroke="#4a1418">はい</text>
<text x="544.5" y="1254.4" class="nm" font-size="19.5" fill="#4a1418" stroke="#4a1418" textLength="24.8" lengthAdjust="spacingAndGlyphs">94</text>
<text x="572.9" y="1254.4" class="mei" font-size="14" fill="#4a1418">名</text>
</svg>
</body></html>
